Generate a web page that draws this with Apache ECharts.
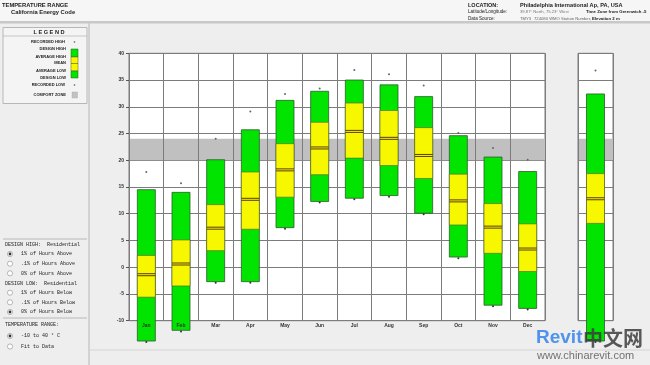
<!DOCTYPE html>
<html>
<head>
<meta charset="utf-8">
<script src="https://cdn.jsdelivr.net/npm/echarts@6/dist/echarts.min.js"></script>
<style>
html,body{margin:0;padding:0;background:#eeeeee;}
#chart{width:650px;height:365px;}
</style>
</head>
<body>
<div id="chart"></div>
<script>
// ---- data ----
var months = ['Jan','Feb','Mar','Apr','May','Jun','Jul','Aug','Sep','Oct','Nov','Dec'];
var recordHigh = [17.8, 15.7, 24.0, 29.1, 32.4, 33.4, 36.9, 36.1, 34.0, 25.1, 22.3, 20.1];
var designHigh = [14.5, 14.0, 20.1, 25.7, 31.2, 32.9, 35.0, 34.1, 31.9, 24.6, 20.6, 17.9];
var avgHigh    = [2.2, 5.1, 11.7, 17.8, 23.1, 27.1, 30.7, 29.3, 26.1, 17.4, 11.9, 8.1];
var meanTemp   = [-1.4, 0.6, 7.3, 12.7, 18.2, 22.3, 25.4, 24.1, 20.9, 12.4, 7.5, 3.4];
var avgLow     = [-5.6, -3.5, 3.1, 7.1, 13.1, 17.3, 20.4, 19.0, 16.6, 7.9, 2.6, -0.8];
var designLow  = [-13.8, -11.8, -2.7, -2.7, 7.4, 12.3, 12.9, 13.4, 10.1, 1.9, -7.1, -7.7];
var recordLow  = [-14.0, -12.0, -2.9, -2.9, 7.2, 12.1, 12.7, 13.2, 9.9, 1.7, -7.3, -7.9];
var annualCategory = [''];
var annualRecordHigh = [36.8];
var annualDesignHigh = [32.4];
var annualAvgHigh = [17.5];
var annualMean = [12.8];
var annualAvgLow = [8.2];
var annualDesignLow = [-13.8];
var annualRecordLow = [-14.0];
var comfortZone = [20, 24];
var yMin = -10, yMax = 40, yStep = 5;

// ---- build ----
function rows(cats, dl, al, mn, ah, dh, rl, rh) {
  return cats.map(function (c, i) { return [i, dl[i], al[i], mn[i], ah[i], dh[i], rl[i], rh[i]]; });
}
var GREEN = '#00e400', YELLOW = '#f7f700';
function renderBox(params, api) {
  var i = api.value(0);
  var pDL = api.coord([i, api.value(1)]);
  var pAL = api.coord([i, api.value(2)]);
  var pMN = api.coord([i, api.value(3)]);
  var pAH = api.coord([i, api.value(4)]);
  var pDH = api.coord([i, api.value(5)]);
  var pRL = api.coord([i, api.value(6)]);
  var pRH = api.coord([i, api.value(7)]);
  var w = 18, cx = pDH[0], x0 = cx - w / 2;
  return {
    type: 'group',
    children: [
      {type: 'rect', shape: {x: x0, y: pDH[1], width: w, height: pDL[1] - pDH[1]},
       style: {fill: GREEN, stroke: '#2d5a2d', lineWidth: 0.8}},
      {type: 'rect', shape: {x: x0, y: pAH[1], width: w, height: pAL[1] - pAH[1]},
       style: {fill: YELLOW, stroke: '#5a5a30', lineWidth: 0.6}},
      {type: 'line', shape: {x1: x0, y1: pMN[1] - 1, x2: x0 + w, y2: pMN[1] - 1},
       style: {stroke: '#5a3a10', lineWidth: 1}},
      {type: 'line', shape: {x1: x0, y1: pMN[1] + 1, x2: x0 + w, y2: pMN[1] + 1},
       style: {stroke: '#5a3a10', lineWidth: 1}},
      {type: 'circle', shape: {cx: cx, cy: pRH[1], r: 1}, style: {fill: '#666'}},
      {type: 'circle', shape: {cx: cx, cy: pRL[1], r: 1}, style: {fill: '#333'}}
    ]
  };
}
function renderComfort(params, api) {
  var cs = params.coordSys;
  var top = api.coord([0, api.value(2)])[1];
  var bot = api.coord([0, api.value(1)])[1];
  return {type: 'rect', shape: {x: cs.x, y: top, width: cs.width, height: bot - top},
          style: {fill: '#c0c0c0'}};
}

var GRIDLINE = '#7c7c7c';
function yAxisCfg(idx, showLabels) {
  return {
    type: 'value', gridIndex: idx, min: yMin, max: yMax, interval: yStep,
    axisLine: {show: false},
    axisTick: {show: showLabels, length: 3, lineStyle: {color: '#555'}},
    axisLabel: {show: showLabels, fontSize: 5, color: '#333', margin: 5, fontFamily: 'Arial', fontWeight: 'bold'},
    splitLine: {show: true, lineStyle: {color: GRIDLINE, width: 1}}
  };
}
function xAxisCfg(idx, cats) {
  return {
    type: 'category', gridIndex: idx, data: cats, z: 10,
    axisLine: {show: false}, axisTick: {show: false},
    axisLabel: {fontSize: 5, color: '#333', margin: 2, fontFamily: 'Arial', fontWeight: 'bold'},
    splitLine: {show: true, interval: 0, lineStyle: {color: GRIDLINE, width: 1}}
  };
}

function txt(t, x, y, opt) {
  opt = opt || {};
  return {
    type: 'text', z: 100, silent: true,
    style: {
      text: t, x: x, y: y,
      fontSize: opt.size || 5, fontFamily: opt.family || 'Arial',
      fontWeight: opt.weight || 'normal', fill: opt.color || '#222',
      align: opt.align || 'left', verticalAlign: 'middle'
    }
  };
}
function radio(x, y, checked) {
  var g = [{type: 'circle', z: 100, silent: true, shape: {cx: x, cy: y, r: 2.6},
            style: {fill: '#fff', stroke: '#999', lineWidth: 0.7}}];
  if (checked) g.push({type: 'circle', z: 101, silent: true, shape: {cx: x, cy: y, r: 1.4}, style: {fill: '#333'}});
  return g;
}

var mono = 'Liberation Mono';
var graphics = [
  // header band
  {type: 'rect', z: 1, silent: true, shape: {x: 0, y: 0, width: 650, height: 21}, style: {fill: '#f6f6f6'}},
  {type: 'rect', z: 1, silent: true, shape: {x: 0, y: 21, width: 650, height: 2.5}, style: {fill: '#c8c8c8'}},
  txt('TEMPERATURE RANGE', 2, 5, {size: 5.8, weight: 'bold'}),
  txt('California Energy Code', 11, 12.5, {size: 5.8, weight: 'bold'}),
  txt('LOCATION:', 468, 5, {size: 5.5, weight: 'bold'}),
  txt('Philadelphia International Ap, PA, USA', 520, 5, {size: 5.6, weight: 'bold'}),
  txt('Latitude/Longitude:', 468, 12, {size: 4.6}),
  txt('39.87° North, 75.23° West', 520, 12, {size: 4.2, color: '#777'}),
  txt('Time Zone from Greenwich -5', 586, 12, {size: 4.3, weight: 'bold'}),
  txt('Data Source:', 468, 19, {size: 4.6}),
  txt('TMY3', 520, 19, {size: 4.2, color: '#666'}),
  txt('724080 WMO Station Number,', 534, 19, {size: 4.2, color: '#666'}),
  txt('Elevation 2 m', 592, 19, {size: 4.3, weight: 'bold'}),
  // left panel
  {type: 'line', z: 1, silent: true, shape: {x1: 89, y1: 23, x2: 89, y2: 365}, style: {stroke: '#c8c8c8', lineWidth: 1.5}},
  {type: 'rect', z: 2, silent: true, shape: {x: 3, y: 27.5, width: 84, height: 76}, style: {fill: '#f4f4f4', stroke: '#aaa', lineWidth: 0.8}},
  {type: 'line', z: 3, silent: true, shape: {x1: 3, y1: 36, x2: 87, y2: 36}, style: {stroke: '#aaa', lineWidth: 0.6}},
  txt('L E G E N D', 49, 32, {size: 5.6, weight: 'bold', align: 'center'}),
  txt('RECORDED HIGH', 65, 42, {size: 4, weight: 'bold', align: 'right'}),
  txt('DESIGN HIGH', 66, 49.3, {size: 4, weight: 'bold', align: 'right'}),
  txt('AVERAGE HIGH', 66, 56.7, {size: 4, weight: 'bold', align: 'right'}),
  txt('MEAN', 66, 63.3, {size: 4, weight: 'bold', align: 'right'}),
  txt('AVERAGE LOW', 66, 70.7, {size: 4, weight: 'bold', align: 'right'}),
  txt('DESIGN LOW', 66, 77.7, {size: 4, weight: 'bold', align: 'right'}),
  txt('RECORDED LOW', 65, 85, {size: 4, weight: 'bold', align: 'right'}),
  txt('COMFORT ZONE', 66, 95, {size: 4, weight: 'bold', align: 'right'}),
  {type: 'circle', z: 100, silent: true, shape: {cx: 74.5, cy: 42, r: 0.8}, style: {fill: '#555'}},
  {type: 'circle', z: 100, silent: true, shape: {cx: 74.5, cy: 85, r: 0.8}, style: {fill: '#555'}},
  {type: 'rect', z: 100, silent: true, shape: {x: 71, y: 49, width: 7, height: 8}, style: {fill: GREEN, stroke: '#2d5a2d', lineWidth: 0.5}},
  {type: 'rect', z: 100, silent: true, shape: {x: 71, y: 57, width: 7, height: 14}, style: {fill: YELLOW, stroke: '#5a5a30', lineWidth: 0.5}},
  {type: 'rect', z: 100, silent: true, shape: {x: 71, y: 71, width: 7, height: 7}, style: {fill: GREEN, stroke: '#2d5a2d', lineWidth: 0.5}},
  {type: 'line', z: 101, silent: true, shape: {x1: 71, y1: 63.5, x2: 78, y2: 63.5}, style: {stroke: '#6b4a1a', lineWidth: 0.6}},
  {type: 'rect', z: 100, silent: true, shape: {x: 72, y: 92, width: 5.5, height: 6}, style: {fill: '#c2c2c2', stroke: '#aaa', lineWidth: 0.4}},
  // radio section
  {type: 'line', z: 3, silent: true, shape: {x1: 3, y1: 239, x2: 87, y2: 239}, style: {stroke: '#aaa', lineWidth: 0.8}},
  txt('DESIGN HIGH:  Residential', 5, 244.3, {size: 5, family: mono}),
  txt('1% of Hours Above', 21, 254, {size: 5, family: mono}),
  txt('.1% of Hours Above', 21, 263.7, {size: 5, family: mono}),
  txt('0% of Hours Above', 21, 273.3, {size: 5, family: mono}),
  txt('DESIGN LOW:  Residential', 5, 283.3, {size: 5, family: mono}),
  txt('1% of Hours Below', 21, 292.7, {size: 5, family: mono}),
  txt('.1% of Hours Below', 21, 302.3, {size: 5, family: mono}),
  txt('0% of Hours Below', 21, 312, {size: 5, family: mono}),
  {type: 'line', z: 3, silent: true, shape: {x1: 3, y1: 318, x2: 87, y2: 318}, style: {stroke: '#aaa', lineWidth: 0.8}},
  txt('TEMPERATURE RANGE:', 5, 324.3, {size: 5, family: mono}),
  txt('-10 to 40 ° C', 21, 336, {size: 5, family: mono}),
  txt('Fit to Data', 21, 346.5, {size: 5, family: mono}),
  {type: 'line', z: 1, silent: true, shape: {x1: 90, y1: 350, x2: 650, y2: 350}, style: {stroke: '#d4d4d4', lineWidth: 1}},
  // watermark
  txt('Revit', 536, 338, {size: 19, weight: 'bold', color: 'rgba(50,130,235,0.85)', family: 'Arial'}),
  txt('中文网', 583, 338, {size: 20, weight: 'bold', color: 'rgba(60,60,60,0.85)', family: 'Noto Sans CJK SC'}),
  txt('www.chinarevit.com', 537, 356, {size: 11, color: 'rgba(90,90,90,0.85)', family: 'Arial'})
];
[[10,254,true],[10,263.7,false],[10,273.3,false],[10,292.7,false],[10,302.3,false],[10,312,true],[10,336,true],[10,346.5,false]]
  .forEach(function (r) { graphics = graphics.concat(radio(r[0], r[1], r[2])); });

var option = {
  animation: false,
  backgroundColor: '#eeeeee',
  grid: [
    {left: 129, top: 53.3, width: 416, height: 267.4, show: true, backgroundColor: '#fff', borderColor: '#7c7c7c', borderWidth: 1},
    {left: 578, top: 53.3, width: 35, height: 267.4, show: true, backgroundColor: '#fff', borderColor: '#7c7c7c', borderWidth: 1}
  ],
  xAxis: [xAxisCfg(0, months), xAxisCfg(1, annualCategory)],
  yAxis: [yAxisCfg(0, true), yAxisCfg(1, false)],
  graphic: graphics,
  series: [
    {type: 'custom', xAxisIndex: 0, yAxisIndex: 0, z: 1, silent: true, clip: false,
     renderItem: renderComfort, data: [[0, comfortZone[0], comfortZone[1]]]},
    {type: 'custom', xAxisIndex: 1, yAxisIndex: 1, z: 1, silent: true, clip: false,
     renderItem: renderComfort, data: [[0, comfortZone[0], comfortZone[1]]]},
    {type: 'custom', xAxisIndex: 0, yAxisIndex: 0, z: 3, clip: false, renderItem: renderBox,
     encode: {x: 0, y: [1, 2, 3, 4, 5, 6, 7]},
     data: rows(months, designLow, avgLow, meanTemp, avgHigh, designHigh, recordLow, recordHigh)},
    {type: 'custom', xAxisIndex: 1, yAxisIndex: 1, z: 3, clip: false, renderItem: renderBox,
     encode: {x: 0, y: [1, 2, 3, 4, 5, 6, 7]},
     data: rows(annualCategory, annualDesignLow, annualAvgLow, annualMean, annualAvgHigh, annualDesignHigh, annualRecordLow, annualRecordHigh)}
  ]
};
var chart = echarts.init(document.getElementById('chart'), null, {renderer: 'canvas'});
chart.setOption(option);
</script>
</body>
</html>
